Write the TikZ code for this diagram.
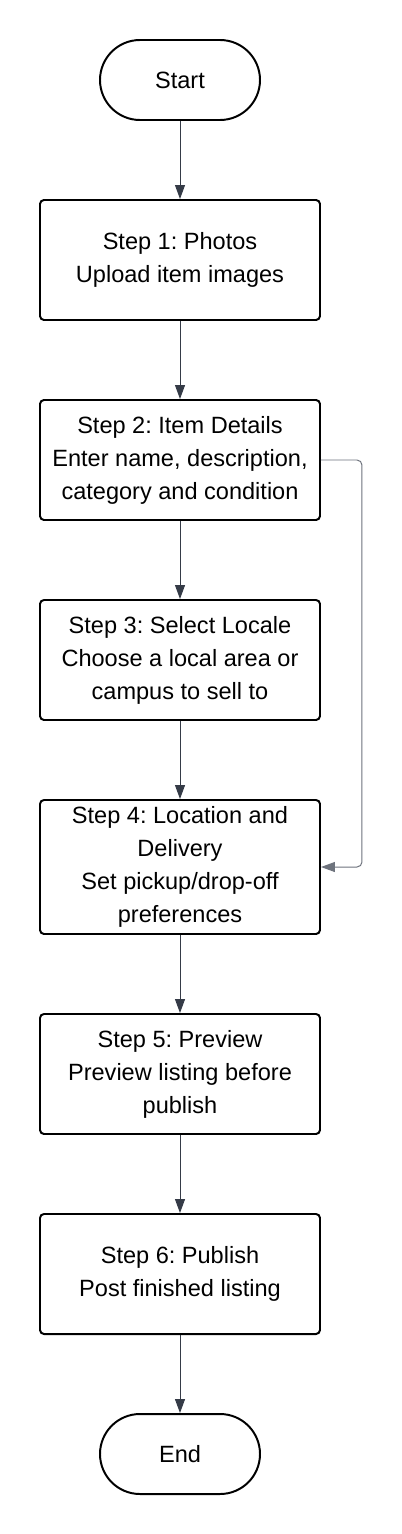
\documentclass[tikz,border=0pt]{standalone}
\usepackage{fontspec}
\setmainfont{Liberation Sans}
\frenchspacing
\usetikzlibrary{arrows.meta}
\definecolor{linkgray}{HTML}{353B47}
\definecolor{sidegray}{HTML}{6E737D}

\tikzset{
  stepbox/.style={draw=black, line width=2.8pt, rounded corners=0.2cm, fill=white,
    minimum width=14cm, minimum height=6cm, align=center, inner sep=0pt,
    font=\fontsize{33.5}{47}\selectfont},
  termbox/.style={draw=black, line width=2.8pt, rounded corners=2cm, fill=white,
    minimum width=8cm, minimum height=4cm, inner sep=0pt,
    font=\fontsize{33.5}{47}\selectfont},
  link/.style={draw=linkgray, line width=1.4pt, -{Triangle[length=0.7cm,width=0.5cm]}},
  sidelink/.style={draw=sidegray, line width=1.4pt, rounded corners=0.25cm,
    -{Triangle[length=0.7cm,width=0.5cm]}}
}

\begin{document}
\begin{tikzpicture}
  \useasboundingbox[fill=white] (0cm,0cm) rectangle (20.05cm,-76.7cm);
  \node[termbox] (start) at (9cm,-4cm) {Start};
  \node[stepbox] (photos) at (9cm,-13cm) {Step 1: Photos\\Upload item images};
  \node[stepbox] (details) at (9cm,-23cm) {Step 2: Item Details\\Enter name, description,\\category and condition};
  \node[stepbox] (locale) at (9cm,-33cm) {Step 3: Select Locale\\Choose a local area or\\campus to sell to};
  \node[stepbox, minimum height=6.7cm] (delivery) at (9cm,-43.35cm) {Step 4: Location and\\Delivery\\Set pickup/drop-off\\preferences};
  \node[stepbox] (preview) at (9cm,-53.7cm) {Step 5: Preview\\Preview listing before\\publish};
  \node[stepbox] (publish) at (9cm,-63.7cm) {Step 6: Publish\\Post finished listing};
  \node[termbox] (end) at (9cm,-72.7cm) {End};

  \draw[link] (start) -- (photos);
  \draw[link] (photos) -- (details);
  \draw[link] (details) -- (locale);
  \draw[link] (locale) -- (delivery);
  \draw[link] (delivery) -- (preview);
  \draw[link] (preview) -- (publish);
  \draw[link] (publish) -- (end);
  \draw[sidelink] (details.east) -- ++(2.05cm,0cm) |- (delivery.east);
\end{tikzpicture}
\end{document}
